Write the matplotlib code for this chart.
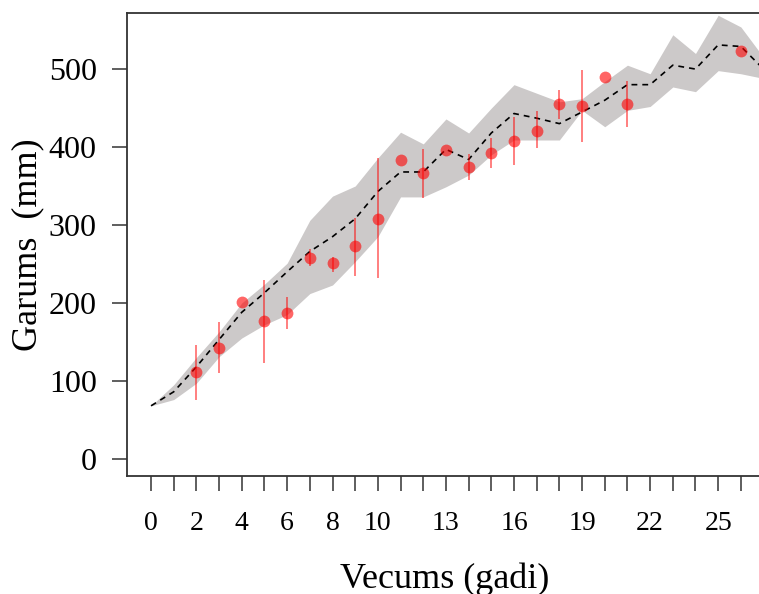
import numpy as np
import matplotlib
matplotlib.use("Agg")
import matplotlib.pyplot as plt

plt.rcParams['font.family'] = ['Liberation Serif', 'DejaVu Serif']

# modeļa vidējais garums un intervāls pa gadiem
years = np.arange(0, 28)
model_mean = [68, 86, 118, 153, 188, 213, 240, 266, 285, 308, 343, 368, 368, 397,
              384, 418, 443, 437, 430, 445, 460, 480, 480, 505, 500, 531, 529, 500]
model_upper = [68, 95, 130, 163, 200, 224, 251, 306, 337, 350, 386, 419, 404, 436,
               418, 450, 480, 469, 458, 462, 484, 505, 494, 544, 520, 569, 554, 515]
model_lower = [68, 76, 97, 131, 155, 172, 185, 212, 223, 253, 285, 336, 336, 349,
               364, 390, 409, 409, 409, 447, 426, 447, 452, 477, 471, 498, 494, 488]

# novērojumi ar izkliedi
obs_age = [2, 3, 4, 5, 6, 7, 8, 9, 10, 11, 12, 13, 14, 15, 16, 17, 18, 19, 20, 21, 26]
obs_len = [111, 142, 201, 177, 187, 257, 251, 273, 308, 383, 367, 396,
           375, 392, 408, 421, 455, 452, 490, 455, 523]
obs_lo = [76, 110, 201, 123, 166, 247, 240, 234, 232, 383, 334, 396,
          358, 373, 377, 399, 436, 407, 490, 426, 523]
obs_hi = [146, 176, 201, 230, 207, 269, 259, 309, 386, 383, 397, 396,
          391, 411, 439, 446, 473, 499, 490, 485, 523]

x_labels = [0, 2, 4, 6, 8, 10, 13, 16, 19, 22, 25]

fig = plt.figure(figsize=(7.59, 5.94), dpi=100)
ax = fig.add_axes([0.1667, 0.1987, 0.8393, 0.7795])

ax.fill_between(years, model_lower, model_upper, color='#ccc9c9', linewidth=0)
ax.plot(years, model_mean, color='black', linewidth=1.2, dashes=(3.5, 3))
ax.vlines(obs_age, obs_lo, obs_hi, color='red', alpha=0.5, linewidth=1.4)
ax.plot(obs_age, obs_len, 'o', color='red', alpha=0.6, markersize=8.5,
        markeredgewidth=0)

ax.set_xlim(-1.08, 27.0)
ax.set_ylim(-22, 572)

ax.set_xticks(years)
ax.set_xticklabels([str(v) if v in x_labels else '' for v in years])
ax.set_yticks([0, 100, 200, 300, 400, 500])

for side in ['left', 'bottom', 'top', 'right']:
    ax.spines[side].set_color('#333333')
    ax.spines[side].set_linewidth(1.3)

ax.tick_params(axis='x', length=10.5, width=1.1, color='#333333', pad=15,
               labelsize=20)
ax.tick_params(axis='y', length=10.5, width=1.1, color='#333333', pad=11,
               labelsize=23)

ax.set_xlabel('Vecums (gadi)', fontsize=26, labelpad=19)
ax.set_ylabel('Garums  (mm)', fontsize=26, labelpad=3)

fig.savefig('out.png', dpi=100)
